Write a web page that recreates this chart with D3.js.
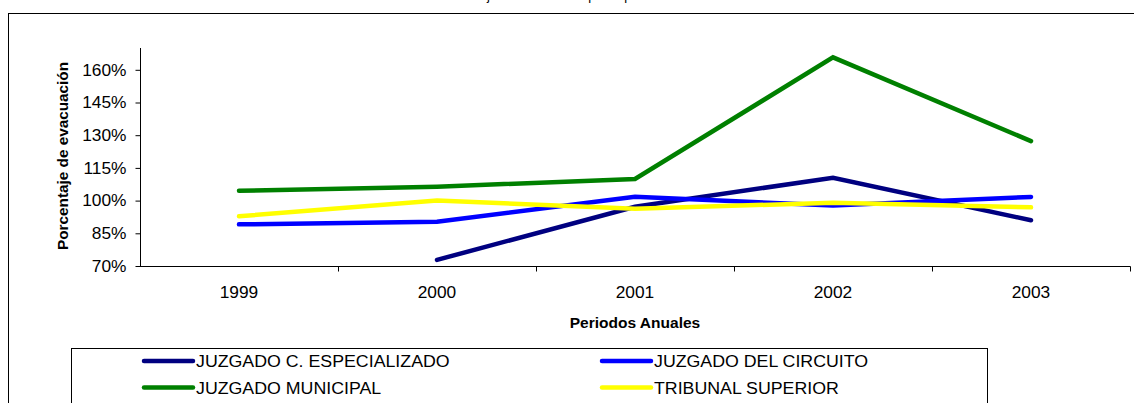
<!DOCTYPE html>
<html><head><meta charset="utf-8">
<script src="https://cdn.jsdelivr.net/npm/d3@7"></script>
<style>
html,body{margin:0;padding:0;background:#fff;}
svg{display:block;font-family:"Liberation Sans",Arial,sans-serif;}
</style></head>
<body><svg id="c" width="1134" height="403"></svg>
<script>
const years = ["1999","2000","2001","2002","2003"];
const yTicks = [70,85,100,115,130,145,160];
const especializado = [null,72.8,97.2,110.5,91.0];
const circuito = [89.1,90.3,101.8,97.7,101.7];
const municipal = [104.5,106.4,109.9,165.7,127.3];
const tribunal = [92.8,100.0,96.3,99.0,96.9];
const seriesNames = ["JUZGADO C. ESPECIALIZADO","JUZGADO DEL CIRCUITO","JUZGADO MUNICIPAL","TRIBUNAL SUPERIOR"];
const seriesColors = ["#000080","#0000FF","#008000","#FFFF00"];
const titleText = "Porcentaje de evacuación por especialidad";
const xTitle = "Periodos Anuales";
const yTitle = "Porcentaje de evacuación";

const svg = d3.select("#c");
const allSeries = [especializado, circuito, municipal, tribunal];

function stretch(sel, f){
  sel.each(function(){
    const L = this.getComputedTextLength();
    d3.select(this).attr("textLength", L*f).attr("lengthAdjust","spacingAndGlyphs");
  });
}

// outer frame
svg.append("rect").attr("x",8.5).attr("y",13.5).attr("width",1200).attr("height",500)
  .attr("fill","none").attr("stroke","#000").attr("stroke-width",1);

// cropped title (only descenders visible in the reference)
svg.append("text").attr("x",435).attr("y",0).attr("font-size",13).attr("fill","#000").text(titleText);

const x = d3.scalePoint().domain(years).range([140,1130]).padding(0.5);
const xBand = d3.scaleBand().domain(years).range([140,1130]);
const y = d3.scaleLinear().domain([70,170]).range([266,48]);

// y axis
const ya = svg.append("g").attr("transform","translate(140.5,0)")
  .call(d3.axisLeft(y).tickValues(yTicks).tickSize(5).tickPadding(9).tickFormat(d=>d+"%"));
ya.select(".domain").attr("stroke","#000").attr("d","M0,48V266.5");
ya.selectAll(".tick line").attr("stroke","#000");
ya.selectAll("text").attr("font-size",16.5).attr("font-family","Liberation Sans, Arial").attr("fill","#000");
stretch(ya.selectAll("text"),1.05);

// x axis
const xa = svg.append("g").attr("transform","translate(0,266.5)");
xa.append("line").attr("x1",140).attr("x2",1130.5).attr("stroke","#000");
const bounds = years.map(d=>xBand(d)).concat([xBand.range()[1]]);
xa.selectAll(".tk").data(bounds.slice(1)).join("line")
  .attr("x1",d=>Math.round(d)+0.5).attr("x2",d=>Math.round(d)+0.5).attr("y1",0).attr("y2",5).attr("stroke","#000");
const xl = xa.selectAll(".lb").data(years).join("text")
  .attr("x",d=>x(d)).attr("y",31).attr("text-anchor","middle").attr("font-size",16.5).attr("fill","#000").text(d=>d);
stretch(xl,1.05);

// axis titles
const xt = svg.append("text").attr("x",635).attr("y",328).attr("text-anchor","middle")
  .attr("font-size",14.5).attr("font-weight","bold").text(xTitle);
stretch(xt,1.07);
const yt = svg.append("text").attr("transform","translate(68,156) rotate(-90)").attr("text-anchor","middle")
  .attr("font-size",15).attr("font-weight","bold").text(yTitle);
stretch(yt,1.02);

// lines
const line = d3.line().defined(d=>d.v!=null).x(d=>x(d.k)).y(d=>y(d.v));
allSeries.forEach((s,i)=>{
  svg.append("path").datum(years.map((k,j)=>({k:k,v:s[j]})))
    .attr("d",line).attr("fill","none").attr("stroke",seriesColors[i])
    .attr("stroke-width",4.5).attr("stroke-linejoin","miter").attr("stroke-linecap","round");
});

// legend
svg.append("rect").attr("x",71.5).attr("y",348.5).attr("width",916).attr("height",80)
  .attr("fill","#fff").attr("stroke","#000").attr("stroke-width",1);
const lx = [144,602], ly = [361,387.5];
seriesNames.forEach((n,i)=>{
  const cx = lx[i%2], cy = ly[Math.floor(i/2)];
  svg.append("line").attr("x1",cx).attr("x2",cx+49).attr("y1",cy).attr("y2",cy)
    .attr("stroke",seriesColors[i]).attr("stroke-width",4.5).attr("stroke-linecap","round");
  const t = svg.append("text").attr("x",cx+52).attr("y",cy+6).attr("font-size",16).attr("fill","#000").text(n);
  stretch(t,1.11);
});
</script></body></html>
